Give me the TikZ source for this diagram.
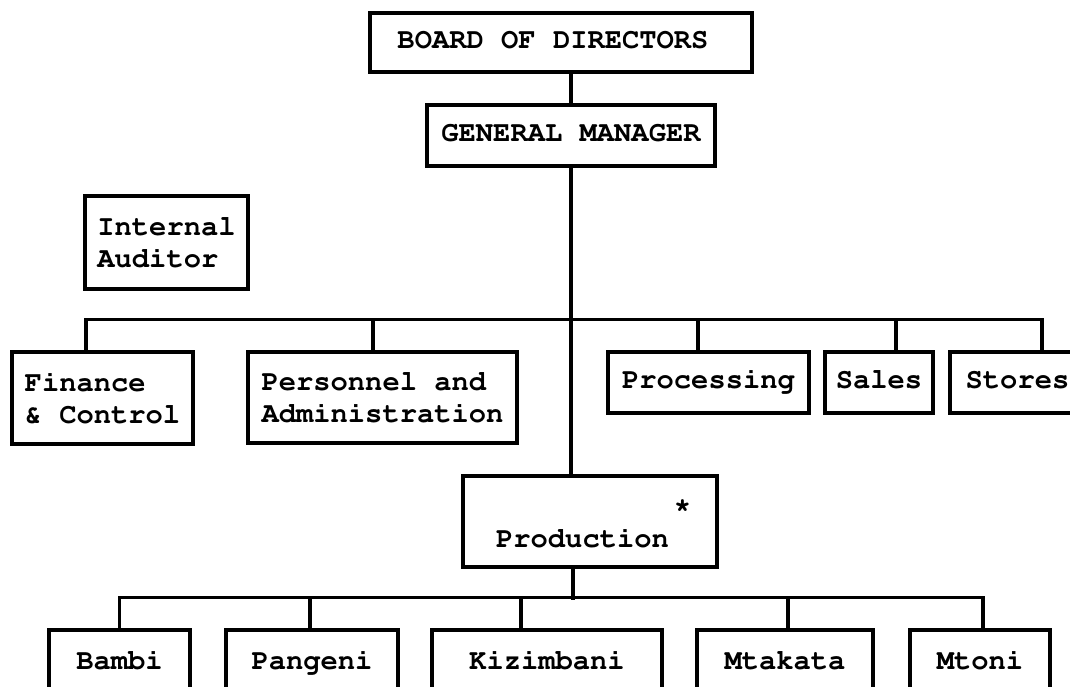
\documentclass[tikz,border=0pt]{standalone}
\usepackage[T1]{fontenc}
\usepackage{courier}
\begin{document}
\begin{tikzpicture}[x=1pt,y=-1pt,
  box/.style={draw, line width=3.2pt, rectangle, inner sep=0pt,
    font=\fontsize{28.8}{31.5}\selectfont\ttfamily\bfseries},
  single/.style={box, text height=16pt, text depth=5pt},
  multi/.style={box, align=left},
  link/.style={line width=3.2pt}]
\useasboundingbox (0,0) rectangle (1070,686);
\clip (0,0) rectangle (1070,686);

% top of the hierarchy
\node[single, minimum width=382pt, minimum height=59pt] (board) at (561,42.5)
  {BOARD OF DIRECTORS\kern16pt};
\node[single, minimum width=288pt, minimum height=61pt] (gm) at (571,135.5) {GENERAL MANAGER};
\node[multi, minimum width=163pt, minimum height=93pt] (aud) at (166.5,242.5) {Internal\\Auditor};

% departments
\node[multi, minimum width=181pt, minimum height=92pt] (fin) at (102.5,398) {Finance\\\& Control};
\node[multi, minimum width=269pt, minimum height=91pt] (pers) at (382.5,397.5) {Personnel and\\Administration};
\node[single, minimum width=201pt, minimum height=61pt] (proc) at (708.5,382.5) {Processing};
\node[single, minimum width=108pt, minimum height=61pt] (sales) at (879,382.5) {Sales};
\node[single, minimum width=135pt, minimum height=61pt] (stores) at (1017.5,382.5) {Stores};

% production and its estates
\node[box, minimum width=254pt, minimum height=91pt] (prod) at (590,521.5)
  {\raisebox{-25.5pt}[0pt][0pt]{Production\rlap{\hspace{5pt}\raisebox{34pt}[0pt][0pt]{*}}\kern15pt}};
\node[single, minimum width=141pt, minimum height=68pt] (bambi) at (119.5,664) {Bambi};
\node[single, minimum width=172pt, minimum height=68pt] (pang) at (312,664) {Pangeni};
\node[single, minimum width=230pt, minimum height=68pt] (kiz) at (547,664) {Kizimbani};
\node[single, minimum width=176pt, minimum height=68pt] (mtak) at (785,664) {Mtakata};
\node[single, minimum width=140pt, minimum height=68pt] (mtoni) at (980,664) {Mtoni};

% reporting lines
\draw[link] (gm.north |- board.south) -- (gm.north);
\draw[link] (gm.south) -- (gm.south |- prod.north);

\draw[link] ([xshift=-16.5pt]fin.north) -- ++(0,-31) -| ([xshift=24.5pt]stores.north);
\draw[link] ([xshift=-9.5pt]pers.north) -- ++(0,-31);
\draw[link] ([xshift=-10.5pt]proc.north) -- ++(0,-31);
\draw[link] ([xshift=17pt]sales.north) -- ++(0,-31);

\draw[link] ([xshift=-17pt]prod.south) -- ++(0,31);
\draw[link] (bambi.north) -- ++(0,-31) -| ([xshift=3pt]mtoni.north);
\draw[link] ([xshift=-2pt]pang.north) -- ++(0,-31);
\draw[link] ([xshift=-26pt]kiz.north) -- ++(0,-31);
\draw[link] ([xshift=3pt]mtak.north) -- ++(0,-31);
\end{tikzpicture}
\end{document}
